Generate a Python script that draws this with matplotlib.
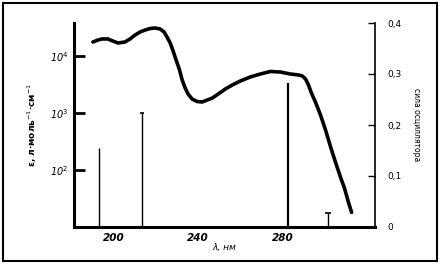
import matplotlib
matplotlib.use("Agg")
import matplotlib.pyplot as plt
from matplotlib.patches import Rectangle

# absorption curve: wavelength (nm) and molar absorptivity
wl = [190.0, 192.4, 194.3, 197.1, 199.5, 201.9, 205.2, 207.6, 210.0, 212.4,
      214.8, 217.1, 219.5, 221.9, 223.8, 225.2, 226.7, 228.1, 229.5, 231.0,
      232.4, 233.8, 235.2, 237.1, 239.5, 241.9, 244.3, 246.7, 249.5, 252.9,
      256.2, 260.0, 264.8, 269.5, 274.3, 279.0, 283.8, 287.6, 289.5, 291.0,
      292.4, 293.8, 295.7, 298.1, 300.5, 302.9, 305.2, 307.6, 309.5, 311.4,
      312.9]
eps = [17600, 19100, 19900, 19900, 18300, 16900, 17600, 19900, 23300, 26400,
       28600, 30300, 31000, 29800, 26400, 21500, 16900, 12200, 8510, 5920,
       3790, 2750, 2150, 1760, 1590, 1560, 1690, 1830, 2150, 2640,
       3100, 3640, 4290, 4830, 5350, 5240, 4830, 4650, 4460, 3950,
       3100, 2240, 1560, 923, 503, 254, 138, 75, 48, 27,
       18]

# calculated transitions: wavelength (nm) and oscillator strength
bar_wl = [192.9, 213.3, 282.8, 301.6]
bar_f = [0.155, 0.224, 0.282, 0.027]

xticks = [200, 240, 280]
xticklabels = ["200", "240", "280"]
yticks_left = [1e2, 1e3, 1e4]
yticklabels_left = ["10$^2$", "10$^3$", "10$^4$"]
yticks_right = [0, 0.1, 0.2, 0.3, 0.4]
yticklabels_right = ["0", "0,1", "0,2", "0,3", "0,4"]

fig = plt.figure(figsize=(4.41, 2.65), dpi=100)
fig.patch.set_facecolor("white")
fig.add_artist(Rectangle((3/441, 4/265), 434/441, 258/265, transform=fig.transFigure,
                         fill=False, lw=1.5, ec="black"))

ax = fig.add_axes([74/441, 38/265, 301/441, 204/265])
ax.set_yscale("log")
ax.set_xlim(181, 324)
ax.set_ylim(10, 10**4.579)
ax.plot(wl, eps, color="black", lw=2.6, solid_capstyle="round", solid_joinstyle="round")

for s in ["top", "right"]:
    ax.spines[s].set_visible(False)
ax.spines["left"].set_linewidth(2.2)
ax.spines["bottom"].set_linewidth(2.2)

ax.set_xticks(xticks)
ax.set_xticklabels(xticklabels, fontsize=7.5, fontweight="bold", fontstyle="italic")
ax.tick_params(axis="x", direction="in", length=0, pad=4)
ax.set_yticks(yticks_left)
ax.set_yticklabels(yticklabels_left, fontsize=7, fontstyle="italic")
ax.yaxis.set_minor_locator(matplotlib.ticker.NullLocator())
ax.tick_params(axis="y", direction="in", length=8, width=2, pad=4)
ax.set_xlabel("λ, нм", fontsize=6.5, fontstyle="italic", labelpad=0)
ax.set_ylabel("ε, л·моль$^{-1}$·см$^{-1}$", fontsize=6.5, fontweight="bold", labelpad=8)

ax2 = ax.twinx()
ax2.set_ylim(0, 0.4)
for s in ["top", "left", "bottom"]:
    ax2.spines[s].set_visible(False)
ax2.spines["right"].set_linewidth(1.2)
ax2.vlines(bar_wl, 0, bar_f, color="black", lw=[1.0, 1.0, 1.6, 1.0])
ax2.plot(bar_wl[3:], bar_f[3:], marker="_", ms=5, mew=1.2, color="black", ls="none")
ax2.plot(bar_wl[1:2], bar_f[1:2], marker="_", ms=2.5, mew=1.2, color="black", ls="none")
ax2.set_yticks(yticks_right)
ax2.set_yticklabels(yticklabels_right, fontsize=6.5)
ax2.tick_params(axis="y", direction="in", length=5, width=1, pad=9)
ax2.set_ylabel("сила осциллятора", fontsize=5.5, rotation=270, labelpad=14)

fig.savefig("out.png", dpi=100, facecolor="white")
